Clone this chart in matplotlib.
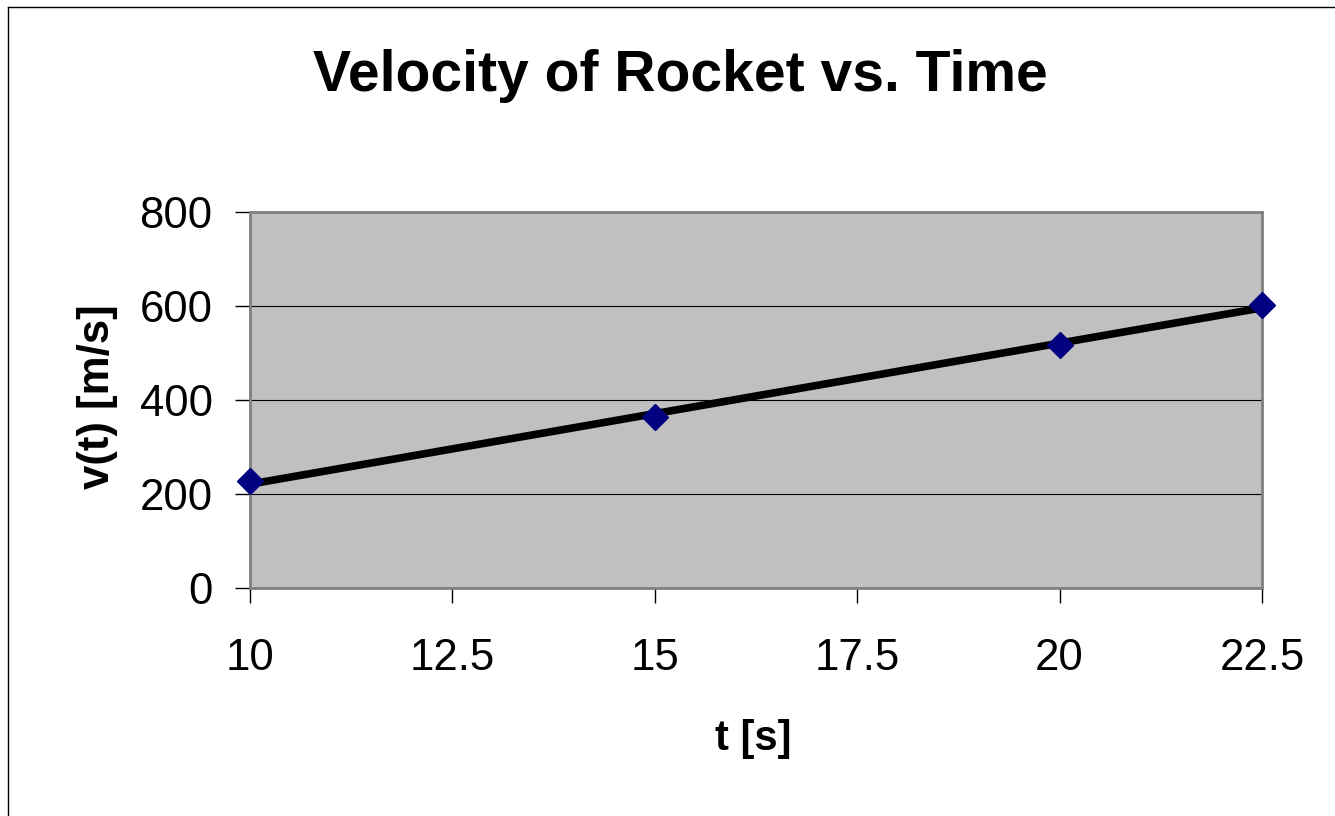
import matplotlib
matplotlib.use('Agg')
import matplotlib.pyplot as plt
from matplotlib import font_manager
from matplotlib.lines import Line2D

# data
time_s = [10, 15, 20, 22.5]
velocity = [227.04, 362.78, 517.35, 602.97]
# linear trendline endpoints (as drawn)
trend_t = [10, 22.5]
trend_v = [221, 596]

x_ticks = [10, 12.5, 15, 17.5, 20, 22.5]
y_ticks = [0, 200, 400, 600, 800]

plt.rcParams['font.family'] = ['Liberation Sans', 'DejaVu Sans']

# bold labels in the original look condensed -> use the narrow face if present
names = {f.name for f in font_manager.fontManager.ttflist}
if 'Liberation Sans Narrow' in names:
    bold_family = ['Liberation Sans Narrow', 'DejaVu Sans']
    title_size, ylab_size, xlab_size = 50, 38.5, 36.5
else:
    bold_family = ['Liberation Sans', 'DejaVu Sans']
    title_size, ylab_size, xlab_size = 41, 31.5, 30

fig = plt.figure(figsize=(13.35, 8.16), dpi=100)
ax = fig.add_axes([250 / 1335, 1 - 588 / 816, 1012 / 1335, 376 / 816])

ax.set_facecolor('#C0C0C0')
ax.set_xlim(10, 22.5)
ax.set_ylim(0, 800)
ax.set_xticks(x_ticks)
ax.set_xticklabels([f"{t:g}" for t in x_ticks])
ax.set_yticks(y_ticks)
ax.yaxis.grid(True, color='black', linewidth=0.8)
ax.set_axisbelow(True)

ax.plot(trend_t, trend_v, color='black', linewidth=5.5, solid_capstyle='butt', zorder=3, clip_on=False)
ax.plot(time_s, velocity, linestyle='none', marker='D', markersize=13,
        color='#000080', zorder=4, clip_on=False)

for side in ['top', 'right', 'bottom', 'left']:
    ax.spines[side].set_color('#808080')
    ax.spines[side].set_linewidth(2)

ax.tick_params(axis='both', direction='out', length=11, width=1, color='black', labelsize=31.5)
ax.tick_params(axis='x', pad=25)
ax.tick_params(axis='y', pad=16)

fig.text(680 / 1335, 1 - 76 / 816, 'Velocity of Rocket vs. Time', ha='center', va='center',
         fontsize=title_size, fontweight='bold', family=bold_family)
fig.text(97 / 1335, 1 - 397 / 816, 'v(t) [m/s]', ha='center', va='center',
         rotation=90, fontsize=ylab_size, fontweight='bold', family=bold_family)
fig.text(753 / 1335, 1 - 739 / 816, 't [s]', ha='center', va='center',
         fontsize=xlab_size, fontweight='bold', family=bold_family)

# outer chart border (left and top edges visible)
fig.add_artist(Line2D([8 / 1335, 8 / 1335], [0, 1 - 7 / 816], transform=fig.transFigure,
                      color='black', linewidth=1))
fig.add_artist(Line2D([8 / 1335, 1], [1 - 7 / 816, 1 - 7 / 816], transform=fig.transFigure,
                      color='black', linewidth=1))

fig.savefig('out.png', dpi=100)
plt.close(fig)
